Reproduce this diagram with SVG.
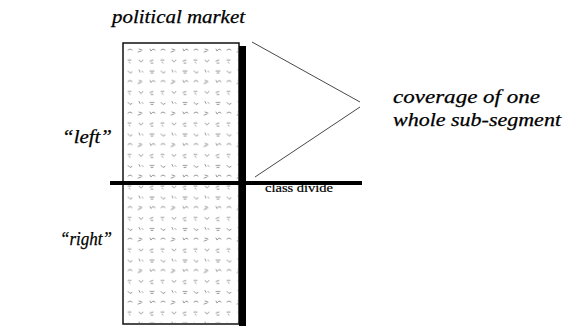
<svg xmlns="http://www.w3.org/2000/svg" width="570" height="326" viewBox="0 0 570 326">
<style>
.it{font-family:"Liberation Serif","Times New Roman",serif;font-style:italic;fill:#000;stroke:#000;stroke-width:0.25}
.rm{font-family:"Liberation Serif","Times New Roman",serif;fill:#000;stroke:#000;stroke-width:0.2}
.ln{stroke:#333;stroke-width:0.9;fill:none}
.mk{stroke:#8a8a8a;stroke-width:0.9;fill:none;stroke-linecap:round}
</style>
<defs>
<pattern id="tex" x="126" y="46" width="33" height="31.5" patternUnits="userSpaceOnUse">
<path class="mk" d="M2,4 l2,-1 l2,1 M13,3 l3,1 M12,6 l3,-1 M24,3 l1,2 l2,-2 l2,1 M2,14 l3,0 M3,16 l1,1 M13,14 l2,2 l2,-2 M24,15 l3,-1 M25,17 l2,0 M2,25 l2,2 l2,-1 M13,24 l1,2 M16,25 l1,1 M24,25 l4,0 M25,27 l2,0"/>
</pattern>
</defs>
<g id="market">
<rect x="123" y="43" width="116" height="281" fill="#fff" stroke="#111" stroke-width="1.5"/>
<rect x="124" y="44" width="114" height="279" fill="url(#tex)"/>
<rect x="239" y="46" width="7" height="280" fill="#000"/>
</g>
<g id="connectors">
<line x1="110" y1="183" x2="362" y2="183" stroke="#000" stroke-width="4"/>
<line class="ln" x1="252" y1="42" x2="360" y2="102"/>
<line class="ln" x1="255" y1="177" x2="360" y2="107"/>
</g>
<g id="title"><text class="it" x="112" y="23" font-size="18" textLength="133" lengthAdjust="spacingAndGlyphs">political market</text></g>
<g id="left"><text class="it" x="62" y="143" font-size="18" textLength="50" lengthAdjust="spacingAndGlyphs">“left”</text></g>
<g id="right"><text class="it" x="60" y="245" font-size="18" textLength="52" lengthAdjust="spacingAndGlyphs">“right”</text></g>
<g id="coverage">
<text class="it" x="393" y="103" font-size="18" textLength="147" lengthAdjust="spacingAndGlyphs">coverage of one</text>
<text class="it" x="393" y="126" font-size="18" textLength="168" lengthAdjust="spacingAndGlyphs">whole sub-segment</text>
</g>
<g id="classdivide"><text class="rm" x="265" y="192" font-size="12.5" textLength="68" lengthAdjust="spacingAndGlyphs">class divide</text></g>
</svg>
